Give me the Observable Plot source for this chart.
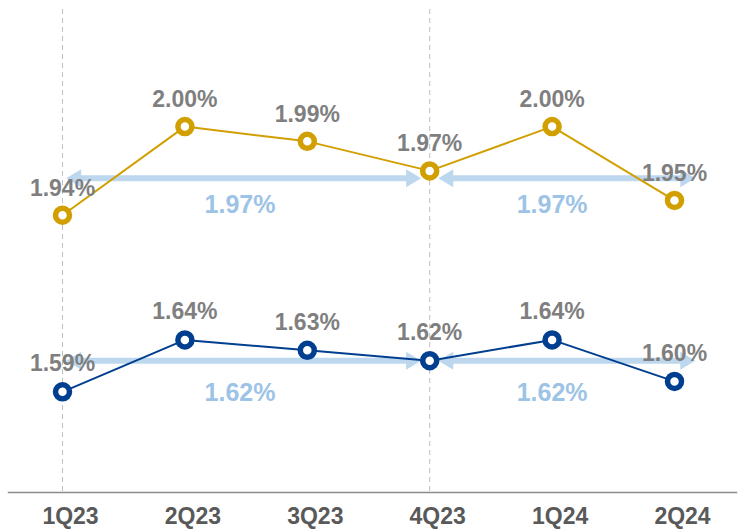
<!DOCTYPE html>
<html>
<head>
<meta charset="utf-8">
<script src="https://cdn.jsdelivr.net/npm/d3@7"></script>
<script src="https://cdn.jsdelivr.net/npm/@observablehq/plot@0.6"></script>
<style>
  html, body { margin: 0; padding: 0; background: #ffffff; }
  #chart { position: relative; width: 744px; height: 532px; }
  #chart svg { position: absolute; left: 0; top: 0; }
</style>
</head>
<body>
<div id="chart"></div>
<script>
// ---- data ----
const quarters = ["1Q23", "2Q23", "3Q23", "4Q23", "1Q24", "2Q24"];
const goldValues = [1.94, 2.00, 1.99, 1.97, 2.00, 1.95];
const blueValues = [1.59, 1.64, 1.63, 1.62, 1.64, 1.60];
const gridQuarters = ["1Q23", "4Q23"];
// average annotations (double arrows) : start / end position in quarter index units
const avgStart = [0.03, 3.07];
const avgEnd = [2.93, 5.17];
const avgLabelAt = [1.45, 4.0];
const goldAvgLevel = [1.965, 1.965];
const goldAvgText = ["1.97%", "1.97%"];
const blueAvgLevel = [1.62, 1.62];
const blueAvgText = ["1.62%", "1.62%"];

// ---- styling ----
const GOLD = "#d29f00";
const BLUE = "#003f8f";
const ARROW = "#bdd7ee";
const AVGTXT = "#9dc3e6";
const GREY = "#7f7f7f";
const FONT = "'Liberation Sans', Arial, sans-serif";

const idx = quarters.map((q, i) => i);
const fmt = v => d3.format(".2f")(v) + "%";

// arrow heads as custom symbols, tip at the origin
const headLeft = { draw(ctx) { ctx.moveTo(0, 0); ctx.lineTo(15, -9); ctx.lineTo(15, 9); ctx.closePath(); } };
const headRight = { draw(ctx) { ctx.moveTo(0, 0); ctx.lineTo(-15, -9); ctx.lineTo(-15, 9); ctx.closePath(); } };

function seriesMarks(values, color, avgLevel, avgText, labelDy, avgDy) {
  const rows = idx.map(i => ({ i, v: values[i] }));
  const avg = avgStart.map((s, k) => ({ s, e: avgEnd[k], at: avgLabelAt[k], v: avgLevel[k], t: avgText[k] }));
  return [
    Plot.ruleY(avg, { y: "v", x1: "s", x2: "e", stroke: ARROW, strokeWidth: 6, insetLeft: 12, insetRight: 12 }),
    Plot.dot(avg, { x: "s", y: "v", symbol: headLeft, r: 5, fill: ARROW, stroke: null }),
    Plot.dot(avg, { x: "e", y: "v", symbol: headRight, r: 5, fill: ARROW, stroke: null }),
    Plot.line(rows, { x: "i", y: "v", stroke: color, strokeWidth: 2 }),
    Plot.dot(rows, { x: "i", y: "v", r: 7, fill: "white", stroke: color, strokeWidth: 5.5 }),
    Plot.text(rows, { x: "i", y: "v", text: d => fmt(d.v), dy: labelDy, fill: GREY, fontSize: 23, fontWeight: "bold" }),
    Plot.text(avg, { x: "at", y: "v", text: "t", dy: avgDy, fill: AVGTXT, fontSize: 25, fontWeight: "bold" })
  ];
}

const common = {
  width: 744, height: 532,
  marginLeft: 8, marginRight: 8, marginTop: 9, marginBottom: 40,
  style: { background: "transparent", fontFamily: FONT }
};

// bottom layer: blue series, gridlines, axis
const blueChart = Plot.plot({
  ...common,
  x: { type: "linear", domain: [0, 5], range: [62, 674] },
  y: { domain: [1.59, 1.64], range: [391.3, 339.4], axis: null },
  marks: [
    Plot.ruleX(gridQuarters.map(q => quarters.indexOf(q)), { stroke: "#bfbfbf", strokeWidth: 1, strokeDasharray: "5,4" }),
    Plot.frame({ anchor: "bottom", stroke: "#8c8c8c", strokeWidth: 1.5 }),
    Plot.axisX(idx, { tickFormat: i => quarters[i], tickSize: 0, tickPadding: 15, fontSize: 23, fontWeight: "bold", fill: "#595959", dx: 8 }),
    ...seriesMarks(blueValues, BLUE, blueAvgLevel, blueAvgText, -28, 32)
  ]
});

// top layer: gold series
const goldChart = Plot.plot({
  ...common,
  x: { type: "linear", domain: [0, 5], range: [62, 674], axis: null },
  y: { domain: [1.94, 2.00], range: [214.7, 126.1], axis: null },
  marks: seriesMarks(goldValues, GOLD, goldAvgLevel, goldAvgText, -27, 27)
});

const root = document.getElementById("chart");
root.appendChild(blueChart);
root.appendChild(goldChart);
</script>
</body>
</html>
